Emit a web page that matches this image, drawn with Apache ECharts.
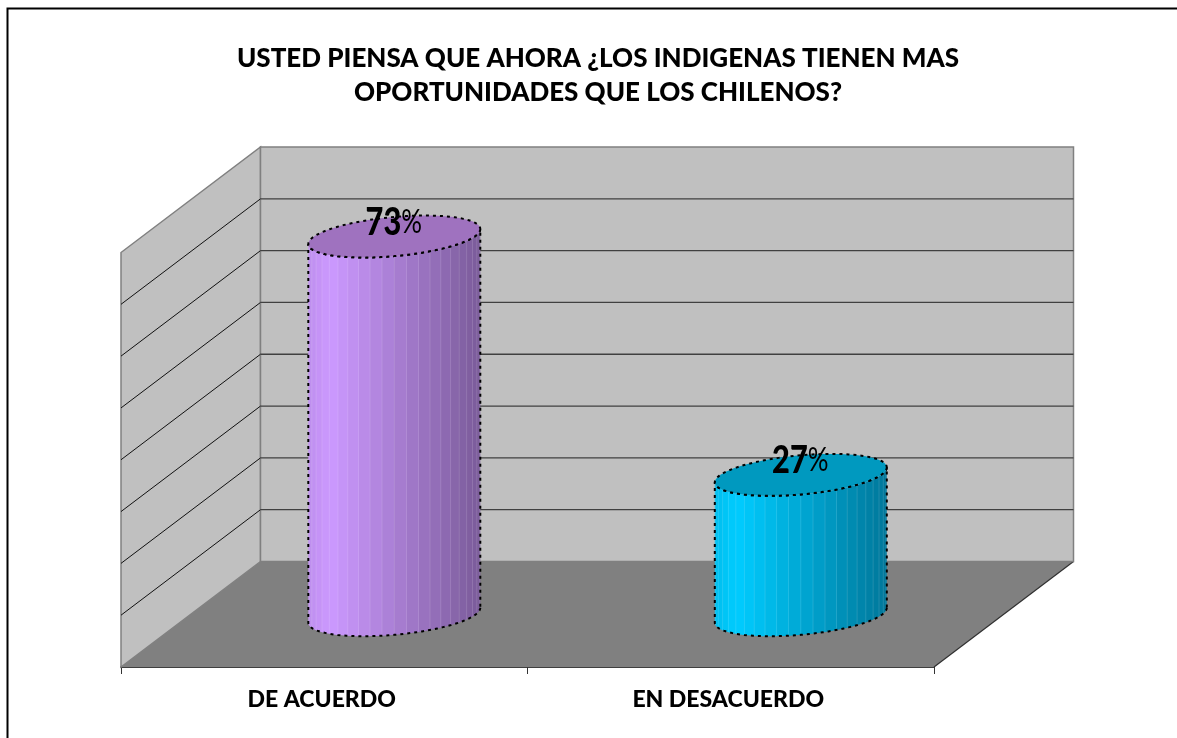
<!DOCTYPE html>
<html><head><meta charset="utf-8">
<style>html,body{margin:0;padding:0;background:#fff}#c{width:1177px;height:738px}</style>
<script src="https://cdn.jsdelivr.net/npm/echarts@6/dist/echarts.min.js"></script>
</head><body><div id="c"></div>
<script>
const categories = ['DE ACUERDO', 'EN DESACUERDO'];
const percentValues = [0.73, 0.27];
const yTicks = [0, 0.1, 0.2, 0.3, 0.4, 0.5, 0.6, 0.7, 0.8];
const bodyLight = ['#CC99FF', '#00CCFF'];
const topColors = ['#9F72BF', '#0099BF'];
const bodyDark = ['#7A5B99', '#00779A'];
const titleText = 'USTED PIENSA QUE AHORA ¿LOS INDIGENAS TIENEN MAS\nOPORTUNIDADES QUE LOS CHILENOS?';

const DX = 139.5, DY = -105.5, RX = 86, RY = 19.6, SHEAR = 7.5, FACETS = 22;
const FONT = 'Lato';

function hex(c){return [1,3,5].map(i=>parseInt(c.substr(i,2),16));}
function mix(a,b,t){const A=hex(a),B=hex(b);return 'rgb('+A.map((v,i)=>Math.round(v+(B[i]-v)*t)).join(',')+')';}
function ellipsePt(cx,cy,t){return [cx+RX*Math.cos(t), cy-SHEAR*Math.cos(t)+RY*Math.sin(t)];}

function renderRoom(params, api){
  const b = params.coordSys;
  const L=b.x, R=b.x+b.width, T=b.y, B=b.y+b.height;
  return {type:'group',children:[
    {type:'polygon',shape:{points:[[L,B],[L+DX,B+DY],[R+DX,B+DY],[R,B]]},style:{fill:'#808080'}},
    {type:'line',shape:{x1:R,y1:B,x2:R+DX,y2:B+DY},style:{stroke:'#303030',lineWidth:1.2}},
    {type:'polygon',shape:{points:[[L,B],[L,T],[L+DX,T+DY],[L+DX,B+DY]]},style:{fill:'#C0C0C0',stroke:'#808080',lineWidth:1.5}},
    {type:'polygon',shape:{points:[[L+DX,B+DY],[L+DX,T+DY],[R+DX,T+DY],[R+DX,B+DY]]},style:{fill:'#C0C0C0',stroke:'#808080',lineWidth:1.5}}
  ]};
}
function renderGridLine(params, api){
  const v = api.value(0);
  const b = params.coordSys;
  const y = api.coord([0,v])[1];
  const L=b.x, R=b.x+b.width;
  return {type:'group',children:[
    {type:'line',shape:{x1:L,y1:y,x2:L+DX,y2:y+DY},style:{stroke:'#111',lineWidth:1}},
    {type:'line',shape:{x1:L+DX,y1:y+DY,x2:R+DX,y2:y+DY},style:{stroke:'#404040',lineWidth:1.3}}
  ]};
}
function renderCylinder(params, api){
  const i = api.value(0), v = api.value(1);
  const base = api.coord([i,0]), top = api.coord([i,v]);
  const cx = base[0]+DX/2+0.3, by = base[1]+DY/2+1, ty = top[1]+DY/2+0.5;
  const light = bodyLight[i], dark = bodyDark[i];
  const body=[];
  for(let k=0;k<=48;k++){body.push(ellipsePt(cx,by,Math.PI*k/48));}
  for(let k=48;k>=0;k--){body.push(ellipsePt(cx,ty,Math.PI*k/48));}
  const lid=[];
  for(let k=0;k<96;k++){lid.push(ellipsePt(cx,ty,2*Math.PI*k/96));}
  const stops=[], lines=[];
  for(let k=0;k<FACETS;k++){
    const a0=Math.PI*k/FACETS, a1=Math.PI*(k+1)/FACETS;
    const p0=(1-Math.cos(a0))/2, p1=(1-Math.cos(a1))/2, m=(p0+p1)/2;
    const c = m<0.13 ? mix(light,'#000000',0.07*(0.13-m)/0.13) : mix(light,dark,(m-0.13)/0.87);
    stops.push({offset:p0,color:c},{offset:p1,color:c});
    if(k>0){
      const x=cx-RX*Math.cos(a0);
      const t=Math.PI-a0;
      const yT=ellipsePt(cx,ty,t)[1], yB=ellipsePt(cx,by,t)[1];
      lines.push({type:'line',z2:2,shape:{x1:x,y1:yT,x2:x,y2:yB},style:{stroke:'rgba(255,255,255,0.13)',lineWidth:1}});
    }
  }
  const dash={stroke:'#000',lineWidth:2,lineDash:[3,4]};
  return {type:'group',children:[
    {type:'polygon',z2:1,shape:{points:body},style:{fill:{type:'linear',x:0,y:0,x2:1,y2:0,colorStops:stops}}},
    ...lines,
    {type:'polygon',z2:3,shape:{points:body},style:Object.assign({fill:'none'},dash)},
    {type:'polygon',z2:4,shape:{points:lid},style:Object.assign({fill:topColors[i]},dash)},
    {type:'text',z2:5,x:cx-0.5,y:ty-14,scaleX:0.81,style:{
      text:'{a|'+Math.round(v*100)+'}{b|%}',align:'center',verticalAlign:'middle',
      rich:{a:{fontFamily:FONT,fontWeight:900,fontSize:38,fill:'#000'},
            b:{fontFamily:FONT,fontWeight:'normal',fontSize:32,fill:'#000'}}}}
  ]};
}

const chart = echarts.init(document.getElementById('c'),null,{renderer:'canvas'});
chart.setOption({
  animation:false,
  backgroundColor:'#fff',
  title:{text:titleText,left:593,top:37,textAlign:'center',
    textStyle:{fontFamily:FONT,fontWeight:900,fontSize:26,lineHeight:34,color:'#000'}},
  grid:{left:121,top:252.5,width:813,height:414.5,containLabel:false},
  xAxis:{type:'category',data:categories,
    axisLine:{lineStyle:{color:'#000',width:1.5}},
    axisTick:{show:true,length:7,lineStyle:{color:'#333'}},
    axisLabel:{margin:21,color:'#000',fontFamily:FONT,fontWeight:900,fontSize:23,padding:[0,5,0,0]}},
  yAxis:{type:'value',min:0,max:0.8,interval:0.1,show:false,splitLine:{show:false}},
  graphic:[{type:'polyline',silent:true,shape:{points:[[7.5,738],[7.5,8.5],[1177,8.5]]},style:{stroke:'#000',lineWidth:2,fill:'none'}}],
  series:[
    {type:'custom',coordinateSystem:'cartesian2d',clip:false,z:1,renderItem:renderRoom,data:[[0]],silent:true},
    {type:'custom',coordinateSystem:'cartesian2d',clip:false,z:2,renderItem:renderGridLine,encode:{y:0},data:yTicks.slice(1,-1).map(v=>[v]),silent:true},
    {type:'custom',coordinateSystem:'cartesian2d',clip:false,z:3,renderItem:renderCylinder,encode:{x:0,y:1},data:percentValues.map((v,i)=>[i,v]),silent:true}
  ]
});
</script></body></html>
